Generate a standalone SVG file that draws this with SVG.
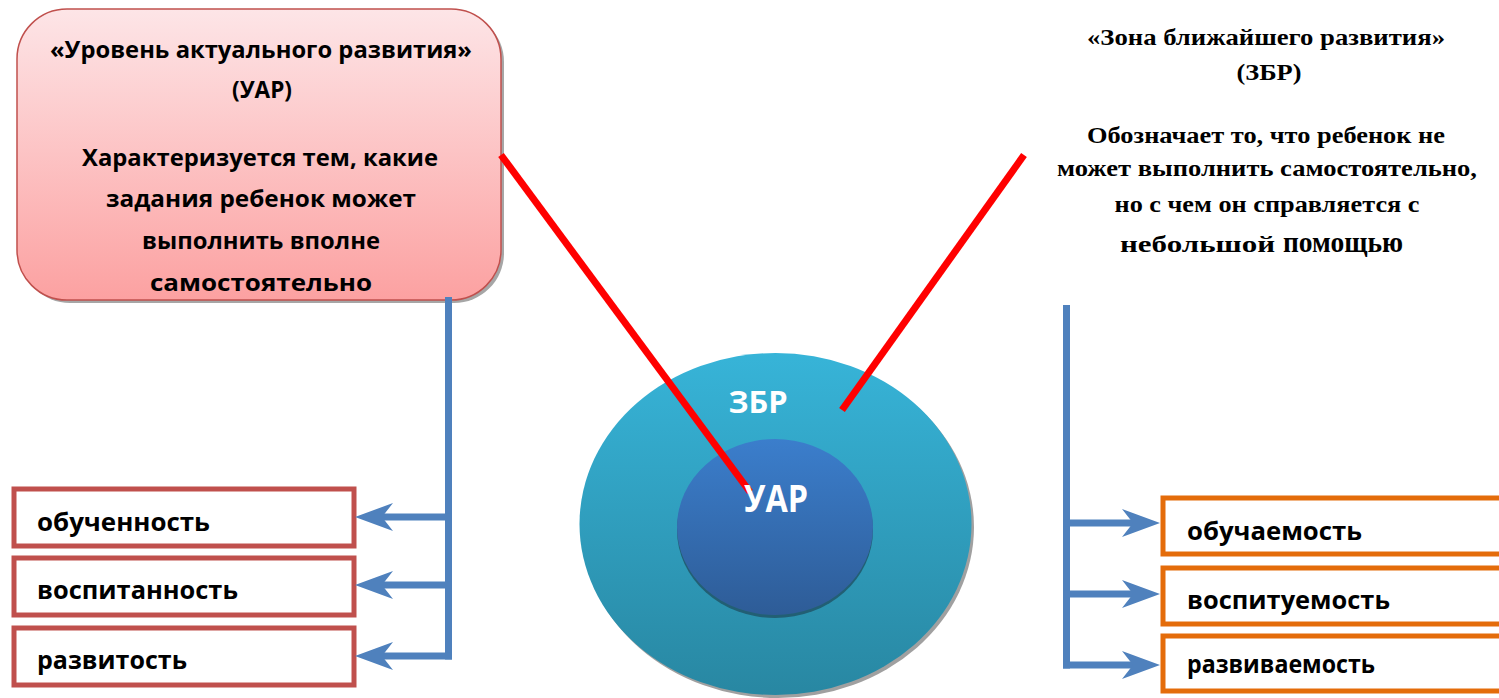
<svg xmlns="http://www.w3.org/2000/svg" width="1499" height="698" viewBox="0 0 1499 698">
<defs>
<linearGradient id="gPink" x1="0" y1="0" x2="0" y2="1">
<stop offset="0" stop-color="#fde5e7"/>
<stop offset="1" stop-color="#fca1a1"/>
</linearGradient>
<linearGradient id="gOuter" x1="0" y1="0" x2="0" y2="1">
<stop offset="0" stop-color="#37b4d8"/>
<stop offset="1" stop-color="#2887a2"/>
</linearGradient>
<linearGradient id="gInner" x1="0" y1="0" x2="0" y2="1">
<stop offset="0" stop-color="#3b7ecc"/>
<stop offset="1" stop-color="#2e5c97"/>
</linearGradient>
<marker id="arr" markerUnits="userSpaceOnUse" markerWidth="40" markerHeight="32" viewBox="0 -15 40 30" refX="11" refY="0" orient="auto">
<path d="M0,-14 L38,0 L0,14 L11,0 Z" fill="#4f81bd"/>
</marker>
<style>
.cal{font-family:"Open Sans","Liberation Sans",sans-serif;font-weight:bold;fill:#000}
.tim{font-family:"Liberation Serif","Times New Roman",serif;font-weight:bold;fill:#000;font-size:24px}
.lbox{fill:#fff;stroke:#c0504d;stroke-width:5}
.rbox{fill:#fff;stroke:#e46c0a;stroke-width:5}
.blue{fill:none;stroke:#4f81bd;stroke-width:7}
.red{stroke:#ff0000;stroke-width:7;stroke-linecap:butt}
</style>
</defs>

<g id="uar-box">
<rect x="20" y="12" width="484" height="291" rx="50" ry="50" fill="#a6a6a6"/>
<rect x="17" y="9" width="484" height="291" rx="50" ry="50" fill="url(#gPink)" stroke="#c0504d" stroke-width="1.5"/>
<g class="cal" font-size="23" text-anchor="middle">
<text x="261" y="58" textLength="422" lengthAdjust="spacingAndGlyphs">«Уровень актуального развития»</text>
<text x="262" y="98" textLength="60" lengthAdjust="spacingAndGlyphs">(УАР)</text>
<text x="260" y="166" textLength="356" lengthAdjust="spacingAndGlyphs">Характеризуется тем, какие</text>
<text x="261" y="207" textLength="310" lengthAdjust="spacingAndGlyphs">задания ребенок может</text>
<text x="261" y="249" textLength="238" lengthAdjust="spacingAndGlyphs">выполнить вполне</text>
<text x="261" y="291" textLength="222" lengthAdjust="spacingAndGlyphs">самостоятельно</text>
</g>
</g>

<g id="zbr-text" class="tim" text-anchor="middle">
<text x="1266" y="45" textLength="358" lengthAdjust="spacingAndGlyphs">«Зона ближайшего развития»</text>
<text x="1269" y="80" textLength="65" lengthAdjust="spacingAndGlyphs">(ЗБР)</text>
<text x="1266" y="143" textLength="358" lengthAdjust="spacingAndGlyphs">Обозначает то, что ребенок не</text>
<text x="1267" y="176" textLength="420" lengthAdjust="spacingAndGlyphs">может выполнить самостоятельно,</text>
<text x="1267" y="212" textLength="305" lengthAdjust="spacingAndGlyphs">но с чем он справляется с</text>
<text x="1120" y="252" text-anchor="start" textLength="155" lengthAdjust="spacingAndGlyphs">небольшой</text>
<text x="1283" y="252" text-anchor="start" font-size="29" textLength="120" lengthAdjust="spacingAndGlyphs">помощью</text>
</g>

<g id="circles">
<ellipse cx="778" cy="527" rx="196" ry="171" fill="#a0a0a0"/>
<ellipse cx="775.5" cy="524" rx="196" ry="171" fill="url(#gOuter)"/>
<ellipse cx="775" cy="530" rx="98" ry="88" fill="#225f74"/>
<ellipse cx="775" cy="527" rx="98" ry="88" fill="url(#gInner)"/>
<text class="cal" x="758" y="413" font-size="31" text-anchor="middle" style="fill:#fff" textLength="59" lengthAdjust="spacingAndGlyphs">ЗБР</text>
</g>

<g id="left-items">
<rect class="lbox" x="14" y="489" width="340" height="57"/>
<rect class="lbox" x="14" y="558" width="340" height="57"/>
<rect class="lbox" x="14" y="628" width="340" height="57"/>
<g class="cal" font-size="25">
<text x="37" y="531" textLength="173" lengthAdjust="spacingAndGlyphs">обученность</text>
<text x="37" y="599" textLength="201" lengthAdjust="spacingAndGlyphs">воспитанность</text>
<text x="37" y="669" textLength="150" lengthAdjust="spacingAndGlyphs">развитость</text>
</g>
</g>

<g id="right-items">
<rect class="rbox" x="1163" y="498" width="350" height="56"/>
<rect class="rbox" x="1163" y="568" width="350" height="56"/>
<rect class="rbox" x="1163" y="636" width="350" height="55"/>
<g class="cal" font-size="25">
<text x="1187" y="540" textLength="175" lengthAdjust="spacingAndGlyphs">обучаемость</text>
<text x="1187" y="609" textLength="203" lengthAdjust="spacingAndGlyphs">воспитуемость</text>
<text x="1187" y="673" textLength="188" lengthAdjust="spacingAndGlyphs">развиваемость</text>
</g>
</g>

<g id="connectors">
<path class="blue" d="M448.5,297 V659.5"/>
<path class="blue" d="M452,517 H382" marker-end="url(#arr)"/>
<path class="blue" d="M452,585 H382" marker-end="url(#arr)"/>
<path class="blue" d="M452,656 H382" marker-end="url(#arr)"/>
<path class="blue" d="M1066.5,305 V668.5"/>
<path class="blue" d="M1063,523 H1133" marker-end="url(#arr)"/>
<path class="blue" d="M1063,594 H1133" marker-end="url(#arr)"/>
<path class="blue" d="M1063,665 H1133" marker-end="url(#arr)"/>
<line class="red" x1="501" y1="155" x2="750" y2="492"/>
<line class="red" x1="1024" y1="155" x2="842" y2="410"/>
</g>

<g id="uar-label">
<text class="cal" x="776" y="512" font-size="37" text-anchor="middle" style="fill:#fff" textLength="64" lengthAdjust="spacingAndGlyphs">УАР</text>
</g>
</svg>
